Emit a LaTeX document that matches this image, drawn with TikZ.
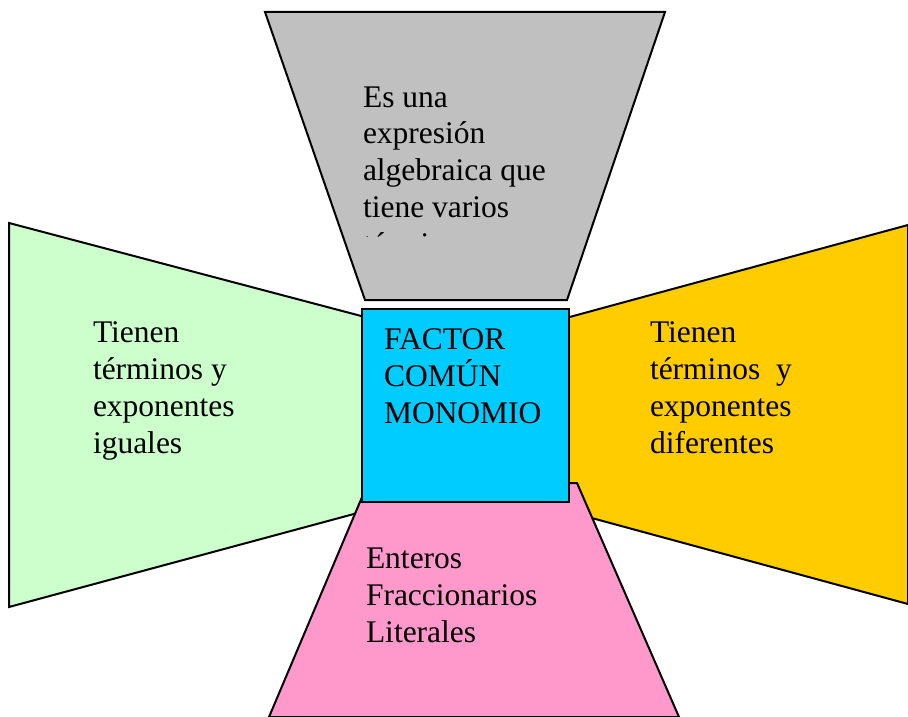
\documentclass[tikz,border=0pt]{standalone}
\usepackage{fontspec}
\setmainfont{Liberation Serif}
\definecolor{gris}{HTML}{C0C0C0}
\definecolor{verde}{HTML}{CCFFCC}
\definecolor{amarillo}{HTML}{FFCC00}
\definecolor{rosa}{HTML}{FF99CC}
\definecolor{celeste}{HTML}{00CCFF}
\begin{document}
\begin{tikzpicture}[x=1pt, y=-1pt, line width=2pt,
    txt/.style={anchor=base west, inner sep=0pt, align=left,
        font=\fontsize{31.5}{36.7}\selectfont}]
    \useasboundingbox (0,0) rectangle (908,717);
    % top piece
    \coordinate (T1) at (265,12);
    \coordinate (T2) at (665,12);
    \coordinate (T3) at (567,300);
    \coordinate (T4) at (365,300);
    \draw[fill=gris] (T1) -- (T2) -- (T3) -- (T4) -- cycle;
    % left piece
    \coordinate (L1) at (9,223);
    \coordinate (L2) at (365,317);
    \coordinate (L3) at (365,511);
    \coordinate (L4) at (9,607);
    \draw[fill=verde] (L1) -- (L2) -- (L3) -- (L4) -- cycle;
    % right piece
    \coordinate (R1) at (566,318);
    \coordinate (R2) at (908,225);
    \coordinate (R3) at (908,604);
    \coordinate (R4) at (566,511);
    \draw[fill=amarillo] (R1) -- (R2) -- (R3) -- (R4) -- cycle;
    % bottom piece
    \coordinate (B1) at (368,483);
    \coordinate (B2) at (577,483);
    \coordinate (B3) at (679,717);
    \coordinate (B4) at (269,717);
    \draw[fill=rosa] (B1) -- (B2) -- (B3) -- (B4) -- cycle;
    % centre box
    \draw[fill=celeste] (362,309) rectangle (569,502);
    % base = baseline of the last line
    \node[txt] (titulo) at (383,423) {FACTOR\\COMÚN\\MONOMIO};
    \node[txt] (igual) at (92,453) {Tienen\\términos y\\exponentes\\iguales};
    \node[txt] (diferente) at (649,453) {Tienen\\términos\ \ y\\exponentes\\diferentes};
    \node[txt] (tipos) at (365,642) {Enteros\\Fraccionarios\\Literales};
    % text cut off at the box edge
    \begin{scope}
        \clip (0,0) rectangle (908,236);
        \node[txt] (definicion) at (362,254) {Es una\\expresión\\algebraica que\\tiene varios\\términos};
    \end{scope}
\end{tikzpicture}
\end{document}
